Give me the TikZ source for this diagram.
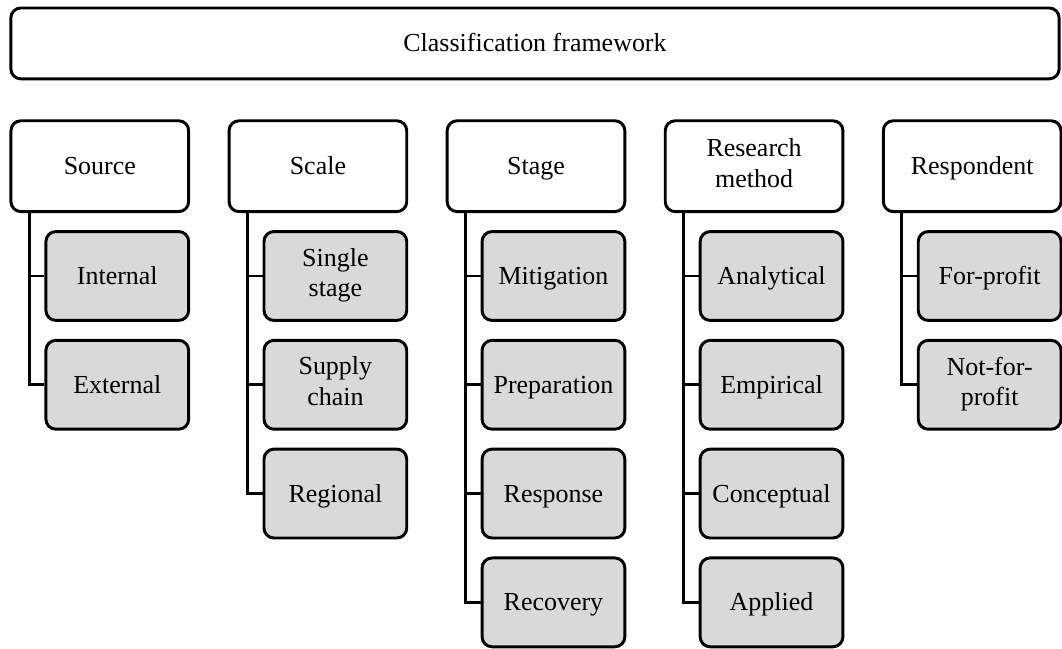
\documentclass[tikz,border=0pt]{standalone}
\usepackage{fontspec}
\setmainfont{Liberation Serif}

\newcommand\boxstrut{\rule[-4.9pt]{0pt}{22pt}}

\begin{document}
\begin{tikzpicture}[x=0.025cm,y=-0.025cm,line width=2.1pt,
  every node/.style={font=\fontsize{18.5}{22}\selectfont,align=center,
    execute at begin node=\boxstrut,execute at end node=\boxstrut},
  topbox/.style={draw,rounded corners=0.25cm,fill=white},
  headbox/.style={draw,rounded corners=0.25cm,fill=white,minimum width=4.45cm,minimum height=2.275cm,inner sep=0pt},
  leafbox/.style={draw,rounded corners=0.25cm,fill=leafgray,minimum width=3.575cm,minimum height=2.225cm,inner sep=0pt}]

\definecolor{leafgray}{HTML}{D9D9D9}

% the page
\useasboundingbox (0,0) rectangle (1064,650);

% the framework
\node[topbox,minimum width=26.25cm,minimum height=1.775cm] (frame) at (536,43.5) {Classification framework};

% the headers
\node[headbox] (src) at (100,166.5) {Source};
\node[headbox] (scl) at (318.5,166.5) {Scale};
\node[headbox] (stg) at (537,166.5) {Stage};
\node[headbox] (mth) at (755.5,166.5) {Research\\method};
\node[headbox] (rsp) at (974,166.5) {Respondent};

% Source
\node[leafbox] (int) at (117.5,276.5) {Internal};
\node[leafbox] (ext) at (117.5,385.5) {External};

% Scale
\node[leafbox] (sgl) at (336,276.5) {Single\\stage};
\node[leafbox] (sup) at (336,385.5) {Supply\\chain};
\node[leafbox] (reg) at (336,494.5) {Regional};

% Stage
\node[leafbox] (mit) at (554.5,276.5) {Mitigation};
\node[leafbox] (pre) at (554.5,385.5) {Preparation};
\node[leafbox] (res) at (554.5,494.5) {Response};
\node[leafbox] (rec) at (554.5,603.5) {Recovery};

% Research method
\node[leafbox] (ana) at (773,276.5) {Analytical};
\node[leafbox] (emp) at (773,385.5) {Empirical};
\node[leafbox] (con) at (773,494.5) {Conceptual};
\node[leafbox] (app) at (773,603.5) {Applied};

% Respondent
\node[leafbox] (fpr) at (991.5,276.5) {For-profit};
\node[leafbox] (npr) at (991.5,385.5) {Not-for-\\profit};

% the branches
\foreach \h/\c in {src/int,src/ext,scl/sgl,scl/sup,scl/reg,stg/mit,stg/pre,stg/res,stg/rec,mth/ana,mth/emp,mth/con,mth/app,rsp/fpr,rsp/npr}
  \draw ([xshift=0.5cm]\h.south west) |- (\c.west);

\end{tikzpicture}
\end{document}
